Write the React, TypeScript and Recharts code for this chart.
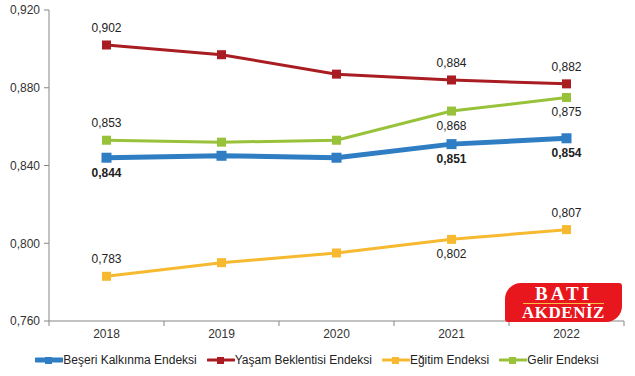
import { LineChart, Line, XAxis, YAxis, Legend, LabelList } from 'recharts';

const years = ['2018', '2019', '2020', '2021', '2022'];
const beseri = [0.844, 0.845, 0.844, 0.851, 0.854];
const yasam = [0.902, 0.897, 0.887, 0.884, 0.882];
const egitim = [0.783, 0.79, 0.795, 0.802, 0.807];
const gelir = [0.853, 0.852, 0.853, 0.868, 0.875];
const yTicks = [0.76, 0.8, 0.84, 0.88, 0.92];

const chartData = years.map((year, i) => ({
  i,
  year,
  beseri: beseri[i],
  yasam: yasam[i],
  egitim: egitim[i],
  gelir: gelir[i],
}));

// which points get a value label, and on which side
const series = [
  { key: 'yasam', name: 'Yaşam Beklentisi Endeksi', color: '#a91d22', width: 3, box: 9, bold: false, labels: { 0: 'up', 3: 'up', 4: 'up' } },
  { key: 'egitim', name: 'Eğitim Endeksi', color: '#f6b92f', width: 3, box: 9, bold: false, labels: { 0: 'up', 3: 'down', 4: 'up' } },
  { key: 'gelir', name: 'Gelir Endeksi', color: '#98c23a', width: 3, box: 9, bold: false, labels: { 0: 'up', 3: 'down', 4: 'down' } },
  { key: 'beseri', name: 'Beşeri Kalkınma Endeksi', color: '#2f7dc3', width: 5, box: 10, bold: true, labels: { 0: 'down', 3: 'down', 4: 'down' } },
];
const legendOrder = ['beseri', 'yasam', 'egitim', 'gelir'];

const fmt = (v: number) => v.toFixed(3).replace('.', ',');
const FONT = '"Liberation Sans", Arial, sans-serif';

const xTicks = [-0.5, 0, 0.5, 1, 1.5, 2, 2.5, 3, 3.5, 4, 4.5];

function XTick(props: any) {
  const { x, y, payload } = props;
  const v = payload.value;
  if (!Number.isInteger(v)) {
    return <line x1={x} x2={x} y1={y - 8} y2={y - 3} stroke="#868686" />;
  }
  return (
    <text x={x} y={y} dy="0.71em" textAnchor="middle" fontSize={12} fill="#333" fontFamily={FONT}>
      {years[v]}
    </text>
  );
}

function makeLabel(labels: Record<number, string>, bold: boolean) {
  return (props: any) => {
    const { x, y, value, index } = props;
    const side = labels[index];
    if (!side) return null;
    return (
      <text
        x={x}
        y={side === 'up' ? y - 13 : y + 19}
        textAnchor="middle"
        fontSize={12}
        fontWeight={bold ? 'bold' : 'normal'}
        fill="#222"
        fontFamily={FONT}
      >
        {fmt(value)}
      </text>
    );
  };
}

function makeDot(color: string, box: number) {
  return (props: any) => {
    const { cx, cy, index } = props;
    if (cx == null || cy == null) return <g key={index} />;
    return <rect key={index} x={cx - box / 2} y={cy - box / 2} width={box} height={box} fill={color} />;
  };
}

function LegendContent() {
  return (
    <div style={{ display: 'flex', justifyContent: 'center', gap: 10, height: 24, alignItems: 'center', paddingLeft: 10, fontFamily: FONT, fontSize: 12, color: '#222' }}>
      {legendOrder.map(k => {
        const s = series.find(x => x.key === k)!;
        return (
          <div key={k} style={{ display: 'flex', alignItems: 'center' }}>
            <svg width={28} height={10}>
              <line x1={1} x2={27} y1={5} y2={5} stroke={s.color} strokeWidth={s.width} strokeLinecap="round" />
              <rect x={10} y={2} width={7} height={7} fill={s.color} />
            </svg>
            <span>{s.name}</span>
          </div>
        );
      })}
    </div>
  );
}

export default function App() {
  return (
    <div style={{ position: 'absolute', left: 0, top: 0, width: 635, height: 376, background: '#fff' }}>
      <LineChart width={635} height={376} data={chartData} margin={{ top: 10, right: 11, left: 0, bottom: 4 }}>
        <XAxis
          dataKey="i"
          type="number"
          domain={[-0.5, 4.5]}
          ticks={xTicks}
          interval={0}
          tickLine={false}
          tick={<XTick />}
          stroke="#868686"
          height={27}
        />
        <YAxis
          domain={[0.76, 0.92]}
          ticks={yTicks}
          tickFormatter={fmt}
          width={49}
          stroke="#868686"
          tickSize={5}
          tickMargin={4}
          tick={{ fontSize: 12, fill: '#333', fontFamily: FONT }}
        />
        <Legend verticalAlign="bottom" content={<LegendContent />} />
        {series.map(s => (
          <Line
            key={s.key}
            type="linear"
            dataKey={s.key}
            name={s.name}
            stroke={s.color}
            strokeWidth={s.width}
            dot={makeDot(s.color, s.box)}
            activeDot={false}
            isAnimationActive={false}
          >
            <LabelList dataKey={s.key} content={makeLabel(s.labels, s.bold)} />
          </Line>
        ))}
      </LineChart>
      {/* site watermark */}
      <div
        style={{
          position: 'absolute',
          left: 505,
          top: 283,
          width: 117,
          height: 39,
          background: '#e8161d',
          borderRadius: '16px 3px 16px 3px',
          color: '#fff',
          fontFamily: '"Liberation Serif", "DejaVu Serif", serif',
          fontWeight: 'bold',
          textAlign: 'center',
        }}
      >
        <div style={{ fontSize: 19, lineHeight: '19px', letterSpacing: 3, borderBottom: '1px solid #f5c04a', margin: '1px 18px 0' }}>BATI</div>
        <div style={{ fontSize: 17, lineHeight: '18px', letterSpacing: 0.5 }}>AKDENİZ</div>
      </div>
    </div>
  );
}
